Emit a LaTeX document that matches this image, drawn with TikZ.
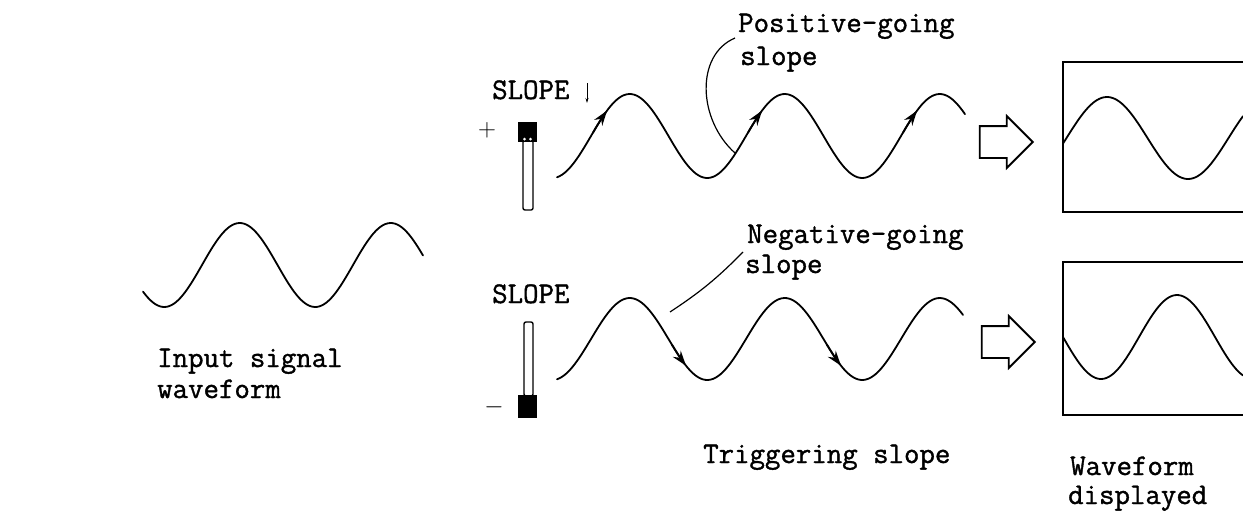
\documentclass[tikz,border=0pt]{standalone}
\usepackage{fontspec}
\newfontfamily\typewr[FakeBold=1.2]{Latin Modern Mono}
\usetikzlibrary{arrows.meta, shapes.arrows, positioning}

\begin{document}
\begin{tikzpicture}[x=1pt, y=-1pt,
		txt/.style = {font=\fontsize{30}{34}\selectfont\typewr, inner sep=0pt, anchor=base west},
		sign/.style = {font=\fontsize{24}{28}\selectfont, inner sep=0pt},
		wave/.style = {line width=1.8pt, line cap=round, line join=round},
		slopetip/.style = {wave, -{Stealth[length=15pt, width=10pt]}},
		slot/.style = {draw, line width=1.4pt, fill=white, rounded corners=2pt, inner sep=0pt},
		knob/.style = {fill=black, inner sep=0pt},
		hollow/.style = {single arrow, draw, line width=1.8pt, inner xsep=0pt, inner ysep=15pt,
			minimum height=53pt, single arrow head extend=10pt, single arrow head indent=0pt, anchor=tip},
		screen/.style = {line width=1.8pt},
		leader/.style = {line width=1.2pt}
		]
		\useasboundingbox (0,0) rectangle (1243,515);
		
		% --- INPUT SIGNAL ---
		\draw [wave] plot[domain=143:423, samples=120, smooth] (\x, {265-42*sin((\x-202)*2.384)});
		\node [txt] (input1) at (157,367) {Input signal};
		\node [txt] (input2) at (157,398) {waveform};
		
		% --- SLOPE SWITCH, POSITIVE ---
		\node [txt] (slopetop) at (492,99) {SLOPE};
		\coordinate (marktop) at (587,83);
		\coordinate (markbot) at (587,103);
		\draw [line width=0.8pt, -{Stealth[length=5pt, width=3pt]}] (marktop) -- (markbot);
		\node [sign] (plus) at (487,130) {$+$};
		\node [slot, minimum width=10pt, minimum height=70pt] (slottop) at (528,175) {};
		\node [knob, minimum width=19pt, minimum height=20pt] (knobtop) at (527.5,132) {};
		\fill [white] (524.5,139) circle (1.5pt) (530.5,139) circle (1.5pt);
		
		% --- SLOPE SWITCH, NEGATIVE ---
		\node [txt] (slopebot) at (492,303) {SLOPE};
		\node [sign] (minus) at (494,407) {$-$};
		\node [slot, minimum width=9pt, minimum height=74pt] (slotbot) at (528.5,359) {};
		\node [knob, minimum width=19pt, minimum height=23pt] (knobbot) at (527.5,406.5) {};
		
		% --- TRIGGERED WAVES ---
		\draw [wave] plot[domain=557:965, samples=160, smooth] (\x, {136-42*sin((\x-591)*2.3226)});
		\foreach \t in {607, 762, 917}
			\draw [slopetip] plot[domain=\t-14:\t, samples=8, smooth] (\x, {136-42*sin((\x-591)*2.3226)});
		
		\draw [wave] plot[domain=557:963, samples=160, smooth] (\x, {339-41*sin((\x-591)*2.3226)});
		\foreach \t in {686, 841}
			\draw [slopetip] plot[domain=\t-14:\t, samples=8, smooth] (\x, {339-41*sin((\x-591)*2.3226)});
		
		% --- LABELS OF THE SLOPES ---
		\node [txt] (possl1) at (738,32) {Positive-going};
		\node [txt] (possl2) at (740,65) {slope};
		\coordinate (pospt) at (735,153);
		\coordinate (posend) at (735,38);
		\draw [leader] (pospt) .. controls (698,120) and (695,55) .. (posend);
		
		\node [txt] (negsl1) at (747,243) {Negative-going};
		\node [txt] (negsl2) at (745,273) {slope};
		\coordinate (negpt) at (670,312);
		\coordinate (negend) at (743,252);
		\draw [leader] (negpt) to[bend right=6] (negend);
		
		\node [txt] (trig) at (703,463) {Triggering slope};
		
		% --- HOLLOW ARROWS ---
		\node [hollow] (arrtop) at (1034,142) {};
		\node [hollow] (arrbot) at (1036,342) {};
		
		% --- DISPLAYED WAVEFORMS ---
		\coordinate (scrtopa) at (1243,62);
		\coordinate (scrtopb) at (1063,62);
		\coordinate (scrtopc) at (1063,212);
		\coordinate (scrtopd) at (1243,212);
		\draw [screen] (scrtopa) -- (scrtopb) -- (scrtopc) -- (scrtopd);
		\draw [wave] plot[domain=1063:1243, samples=80, smooth] (\x, {138-41*sin((\x-1066.5)*2.222)});
		
		\coordinate (scrbota) at (1243,262);
		\coordinate (scrbotb) at (1063,262);
		\coordinate (scrbotc) at (1063,415);
		\coordinate (scrbotd) at (1243,415);
		\draw [screen] (scrbota) -- (scrbotb) -- (scrbotc) -- (scrbotd);
		\draw [wave] plot[domain=1063:1243, samples=80, smooth] (\x, {337+42*sin((\x-1063)*2.368)});
		
		\node [txt] (disp1) at (1070,475) {Waveform};
		\node [txt] (disp2) at (1068,504) {displayed};
		
	\end{tikzpicture}
\end{document}
